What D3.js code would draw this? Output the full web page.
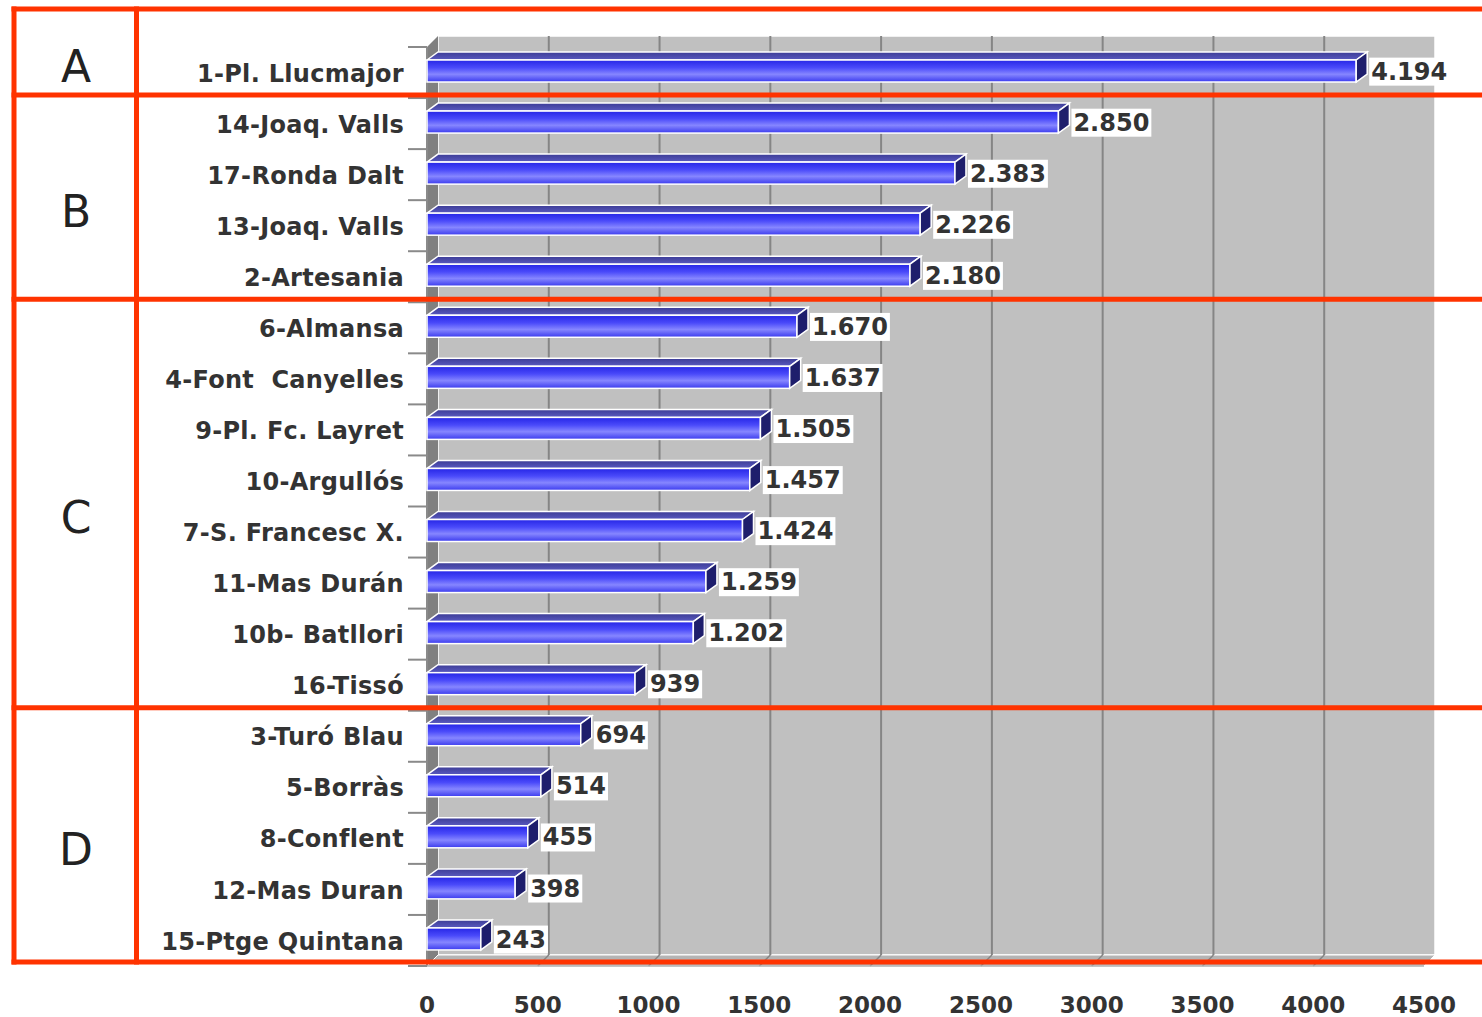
<!DOCTYPE html>
<html lang="es">
	<head>
		<meta charset="utf-8">
		<title>Paradas - barras 3D</title>
		<script src="https://d3js.org/d3.v7.min.js"></script>
		<style type="text/css">
body {
    margin: 0;
    background: #fff;
}
.cat_name, .val_label, .x_tick {
    font-family: "DejaVu Sans", Verdana, sans-serif;
    font-weight: bold;
    fill: #333;
    white-space: pre;
}
.group_name {
    font-family: "DejaVu Sans", Verdana, sans-serif;
    fill: #222;
}
		</style>
	</head>

	<body>
		<script type="text/javascript">

			// categories (top to bottom) and values
			var categories = ["1-Pl. Llucmajor", "14-Joaq. Valls", "17-Ronda Dalt", "13-Joaq. Valls",
				"2-Artesania", "6-Almansa", "4-Font  Canyelles", "9-Pl. Fc. Layret", "10-Argullós",
				"7-S. Francesc X.", "11-Mas Durán", "10b- Batllori", "16-Tissó", "3-Turó Blau",
				"5-Borràs", "8-Conflent", "12-Mas Duran", "15-Ptge Quintana"];
			var values = [4194, 2850, 2383, 2226, 2180, 1670, 1637, 1505, 1457, 1424, 1259, 1202,
				939, 694, 514, 455, 398, 243];

			// groups marked with the red frame
			var groupNames = ["A", "B", "C", "D"];
			var groupSizes = [1, 4, 8, 5];

			var xTicks = [0, 500, 1000, 1500, 2000, 2500, 3000, 3500, 4000, 4500];

			//Width and height
			var w = 1482;
			var h = 1017;

			var depth = 11;     // depth of the back wall
			var barDx = 11;     // bar depth, x
			var barDy = -8;     // bar depth, y

			var svg = d3.select("body")
						.append("svg")
						.attr("width", w)
						.attr("height", h);

			var x = d3.scaleLinear()
				.domain([0, 4500])
				.range([427, 1424]);

			var y = d3.scaleBand()
				.domain(categories)
				.range([47, 966])
				.padding(0);

			var y0 = y.range()[0], y1 = y.range()[1];
			var x0 = x.range()[0], x1 = x.range()[1];

			// gradients
			var defs = svg.append("defs");
			var gFront = defs.append("linearGradient")
				.attr("id", "frontGrad")
				.attr("x1", 0).attr("y1", 0).attr("x2", 0).attr("y2", 1);
			gFront.append("stop").attr("offset", "0%").attr("stop-color", "#2626e6");
			gFront.append("stop").attr("offset", "35%").attr("stop-color", "#4a4afa");
			gFront.append("stop").attr("offset", "65%").attr("stop-color", "#8686ff");
			gFront.append("stop").attr("offset", "100%").attr("stop-color", "#3a3aee");

			var gTop = defs.append("linearGradient")
				.attr("id", "topGrad")
				.attr("x1", 0).attr("y1", 0).attr("x2", 0).attr("y2", 1);
			gTop.append("stop").attr("offset", "0%").attr("stop-color", "#3c3c96");
			gTop.append("stop").attr("offset", "100%").attr("stop-color", "#5a5ac0");

			// back wall
			svg.append("rect")
				.attr("x", x0 + depth)
				.attr("y", y0 - depth)
				.attr("width", x1 - x0)
				.attr("height", y1 - y0)
				.style("fill", "#c0c0c0")
				.style("stroke", "#fff")
				.style("stroke-width", 1.5);

			// left wall
			svg.append("polygon")
				.attr("points", [[x0, y0], [x0 + depth, y0 - depth], [x0 + depth, y1 - depth], [x0, y1]].join(" "))
				.style("fill", "#808080");

			// floor
			svg.append("polygon")
				.attr("points", [[x0, y1], [x0 + depth, y1 - depth], [x1 + depth, y1 - depth], [x1, y1]].join(" "))
				.style("fill", "#b4b4b4")
				.style("stroke", "#fff")
				.style("stroke-width", 1);

			// grid lines on the wall and floor
			svg.selectAll(".grid")
				.data(xTicks.slice(1, -1))
				.enter()
				.append("line")
				.attr("class", "grid")
				.attr("x1", function(d) { return x(d) + depth; })
				.attr("x2", function(d) { return x(d) + depth; })
				.attr("y1", y0 - depth)
				.attr("y2", y1 - depth)
				.style("stroke", "#858585")
				.style("stroke-width", 2);

			svg.selectAll(".grid_floor")
				.data(xTicks.slice(1, -1))
				.enter()
				.append("line")
				.attr("class", "grid_floor")
				.attr("x1", function(d) { return x(d) + depth; })
				.attr("x2", function(d) { return x(d); })
				.attr("y1", y1 - depth)
				.attr("y2", y1)
				.style("stroke", "#858585")
				.style("stroke-width", 1.5);

			// y axis line with ticks at band boundaries
			svg.append("line")
				.attr("x1", x0).attr("x2", x0)
				.attr("y1", y0).attr("y2", y1)
				.style("stroke", "#8a8a8a")
				.style("stroke-width", 2);

			svg.selectAll(".ytick")
				.data(categories.concat(["end"]))
				.enter()
				.append("line")
				.attr("class", "ytick")
				.attr("x1", x0 - 19).attr("x2", x0)
				.attr("y1", function(d, i) { return y0 + i * y.step(); })
				.attr("y2", function(d, i) { return y0 + i * y.step(); })
				.style("stroke", "#8a8a8a")
				.style("stroke-width", 2);

			svg.append("line")
				.attr("x1", x0).attr("x2", x1)
				.attr("y1", y1).attr("y2", y1)
				.style("stroke", "#b0b0b0")
				.style("stroke-width", 1.5);

			// bars
			var barTop = 13, barH = 22;
			var bars = svg.selectAll(".bar")
				.data(values)
				.enter()
				.append("g")
				.attr("class", "bar");

			bars.append("polygon")
				.attr("points", function(d, i) {
					var yt = y(categories[i]) + barTop;
					return [[x0, yt], [x0 + barDx, yt + barDy], [x(d) + barDx, yt + barDy], [x(d), yt]].join(" ");
				})
				.style("fill", "url(#topGrad)")
				.style("stroke", "#fff")
				.style("stroke-width", 1.5);

			bars.append("rect")
				.attr("x", x0)
				.attr("y", function(d, i) { return y(categories[i]) + barTop; })
				.attr("width", function(d) { return x(d) - x0; })
				.attr("height", barH)
				.style("fill", "url(#frontGrad)")
				.style("stroke", "#fff")
				.style("stroke-width", 1.5);

			bars.append("polygon")
				.attr("points", function(d, i) {
					var yt = y(categories[i]) + barTop;
					return [[x(d), yt], [x(d) + barDx, yt + barDy], [x(d) + barDx, yt + barDy + barH], [x(d), yt + barH]].join(" ");
				})
				.style("fill", "#1e1e6c")
				.style("stroke", "#fff")
				.style("stroke-width", 1.5);

			// category names
			svg.selectAll(".cat_name")
				.data(categories)
				.enter()
				.append("text")
				.attr("class", "cat_name")
				.attr("x", 404)
				.attr("y", function(d) { return y(d) + barTop + barH / 2 + 2; })
				.attr("dy", ".36em")
				.attr("font-size", "24px")
				.attr("letter-spacing", "0.3px")
				.style("text-anchor", "end")
				.text(function(d) { return d; });

			// value labels with white boxes
			var fmt = function(v) { return d3.format(",")(v).replace(/,/g, "."); };
			var labels = svg.selectAll(".val")
				.data(values)
				.enter()
				.append("g")
				.attr("class", "val");

			labels.append("text")
				.attr("class", "val_label")
				.attr("x", function(d) { return x(d) + barDx + 4; })
				.attr("y", function(d, i) { return y(categories[i]) + barTop + barH / 2; })
				.attr("dy", ".36em")
				.attr("font-size", "24px")
				.text(function(d) { return fmt(d); });

			labels.each(function() {
				var g = d3.select(this);
				var bb = g.select("text").node().getBBox();
				g.insert("rect", "text")
					.attr("x", bb.x - 2)
					.attr("y", bb.y)
					.attr("width", bb.width + 4)
					.attr("height", bb.height)
					.style("fill", "#fff");
			});

			// x tick labels
			svg.selectAll(".x_tick")
				.data(xTicks)
				.enter()
				.append("text")
				.attr("class", "x_tick")
				.attr("x", function(d) { return x(d); })
				.attr("y", 1013)
				.attr("font-size", "23px")
				.style("text-anchor", "middle")
				.text(function(d) { return d; });

			// red frame around the groups
			var red = "#ff3300";
			var frameTop = 9, frameBottom = y1 - 4, frameLeft = 14;
			var bounds = [frameTop];
			var acc = 0;
			groupSizes.forEach(function(n, i) {
				acc += n;
				if (i < groupSizes.length - 1) bounds.push(y0 + acc * y.step() - 3);
			});
			bounds.push(frameBottom);

			svg.selectAll(".red_h")
				.data(bounds)
				.enter()
				.append("line")
				.attr("class", "red_h")
				.attr("x1", frameLeft - 2.5).attr("x2", w)
				.attr("y1", function(d) { return d; })
				.attr("y2", function(d) { return d; })
				.style("stroke", red)
				.style("stroke-width", 5);

			[frameLeft, 136.5].forEach(function(xx) {
				svg.append("line")
					.attr("x1", xx).attr("x2", xx)
					.attr("y1", frameTop - 2.5).attr("y2", frameBottom + 2.5)
					.style("stroke", red)
					.style("stroke-width", 5);
			});

			// group letters
			svg.selectAll(".group_name")
				.data(groupNames)
				.enter()
				.append("text")
				.attr("class", "group_name")
				.attr("x", 76)
				.attr("y", function(d, i) { return (bounds[i] + bounds[i + 1]) / 2 + 14; })
				.attr("dy", ".36em")
				.attr("font-size", "44px")
				.style("text-anchor", "middle")
				.text(function(d) { return d; });

		</script>
	</body>
</html>
